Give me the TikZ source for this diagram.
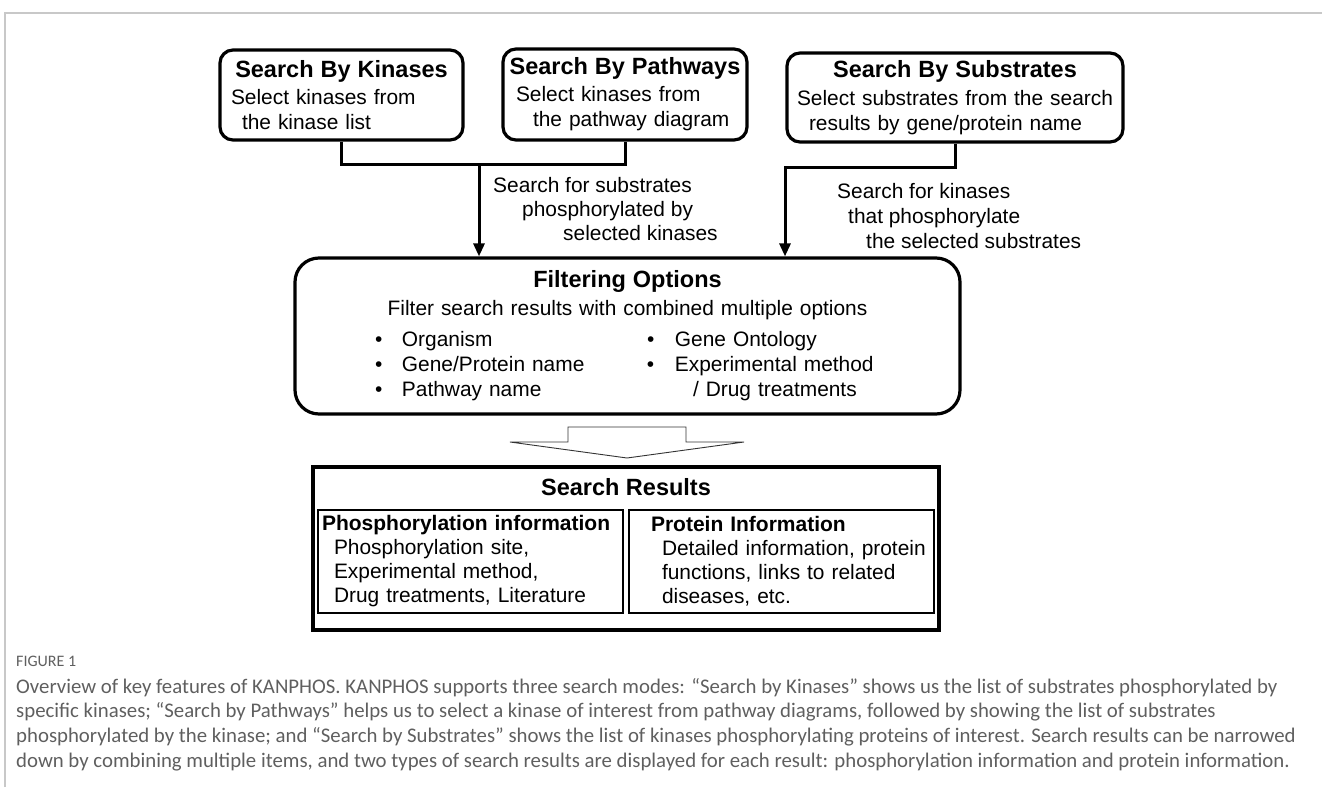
\documentclass[tikz,border=0pt]{standalone}
\usepackage{fontspec}
\setmainfont{Liberation Sans}
\newfontfamily\capfont{Carlito}
\usetikzlibrary{arrows.meta}
\definecolor{capgray}{RGB}{95,95,95}
\definecolor{framegray}{RGB}{200,200,200}
\newcommand{\ttl}[1]{\makebox[\hsize]{\fontsize{23.5}{27}\selectfont\bfseries #1}}
\newcommand{\bul}{\makebox[27pt][l]{\textbullet}}

\begin{document}
\begin{tikzpicture}[x=1pt,y=-1pt,font=\fontsize{20.9}{25}\selectfont,
  modebox/.style={draw, line width=3.2pt, rounded corners=13pt, inner sep=0pt, align=left},
  infobox/.style={draw, line width=1.3pt, inner sep=0pt, align=left, font=\fontsize{20.9}{24}\selectfont},
  lbl/.style={inner sep=0pt, align=left},
  conn/.style={line width=3pt},
  tip/.style={-{Triangle[length=13pt,width=11pt]}},
  capstyle/.style={inner sep=0pt, text=capgray}]
\useasboundingbox (0,0) rectangle (1322,787);
\draw [framegray, line width=1.5pt] (5,787) -- (5,13) -- (1322,13);

% search modes
\node [modebox, text width=243pt, minimum height=90pt] (kin) at (341.5,95)
  {\ttl{Search By Kinases}\\[2pt]\hspace*{11pt}Select kinases from\\\hspace*{22pt}the kinase list};
\node [modebox, text width=244pt, minimum height=91pt] (pwy) at (625,94.5)
  {\ttl{Search By Pathways}\\[2pt]\hspace*{13pt}Select kinases from\\\hspace*{30pt}the pathway diagram};
\node [modebox, text width=336pt, minimum height=89pt] (sub) at (955,97.5)
  {\ttl{Search By Substrates}\\[3pt]\hspace*{10pt}Select substrates from the search\\\hspace*{22pt}results by gene/protein name};

% filtering
\node [modebox, rounded corners=24pt, text width=665pt, minimum height=156pt] (filt) at (627.5,336)
  {\ttl{Filtering Options}\\[3pt]
   \makebox[\hsize]{Filter search results with combined multiple options}\\[6pt]
   \hspace*{80pt}\bul\makebox[245pt][l]{Organism}\makebox[28pt][l]{\textbullet}Gene Ontology\\
   \hspace*{80pt}\bul\makebox[245pt][l]{Gene/Protein name}\makebox[28pt][l]{\textbullet}Experimental method\\
   \hspace*{80pt}\bul\makebox[245pt][l]{Pathway name}\hspace*{46pt}/ Drug treatments};

\coordinate (jk) at (479,164);
\coordinate (js) at (785,167);
\draw [conn] (kin.south) |- (jk) -| (pwy.south);
\draw [conn, tip] (jk) -- (jk |- filt.north);
\draw [conn, tip] (sub.south) |- (js) -- (js |- filt.north);
\node [lbl, anchor=north west] (lblK) at (493,176.8)
  {Search for substrates\\[-1pt]\hspace*{29pt}phosphorylated by\\[-1pt]\hspace*{70pt}selected kinases};
\node [lbl, anchor=north west] (lblS) at (837,182.8)
  {Search for kinases\\\hspace*{11pt}that phosphorylate\\\hspace*{29pt}the selected substrates};

% results
\draw [line width=0.9pt, black!80] (568,427) -- (686,427) -- (686,442) -- (744,442) -- (627,458)
  -- (510,442) -- (568,442) -- cycle;
\node [draw, line width=4.2pt, minimum width=626pt, minimum height=163pt] (res) at (626,548.5) {};
\node [inner sep=0pt, font=\fontsize{23.5}{27}\selectfont\bfseries] (resT) at (626,487) {Search Results};
\node [infobox, text width=305pt, minimum height=103pt] (phos) at (470.5,561.5)
  {\hspace*{4pt}{\fontsize{21}{24}\selectfont\bfseries Phosphorylation information}\\
   \hspace*{16pt}Phosphorylation site,\\\hspace*{16pt}Experimental method,\\
   \hspace*{16pt}Drug treatments, Literature};
\node [infobox, text width=305pt, minimum height=103pt] (prot) at (781.5,561.5)
  {\hspace*{22pt}{\fontsize{21}{24}\selectfont\bfseries Protein Information}\\
   \hspace*{33pt}Detailed information, protein\\\hspace*{33pt}functions, links to related\\
   \hspace*{33pt}diseases, etc.};

% caption
\node [capstyle, anchor=west, font=\capfont\fontsize{16}{18}\selectfont] (fig) at (16,661) {FIGURE 1};
\node [capstyle, anchor=north west, align=left, font=\capfont\fontsize{20.8}{24.7}\selectfont] (cap) at (16,678)
  {Overview of key features of KANPHOS. KANPHOS supports three search modes: “Search by Kinases” shows us the list of substrates phosphorylated by\\
   specific kinases; “Search by Pathways” helps us to select a kinase of interest from pathway diagrams, followed by showing the list of substrates\\
   phosphorylated by the kinase; and “Search by Substrates” shows the list of kinases phosphorylating proteins of interest. Search results can be narrowed\\
   down by combining multiple items, and two types of search results are displayed for each result: phosphorylation information and protein information.};
\end{tikzpicture}
\end{document}
